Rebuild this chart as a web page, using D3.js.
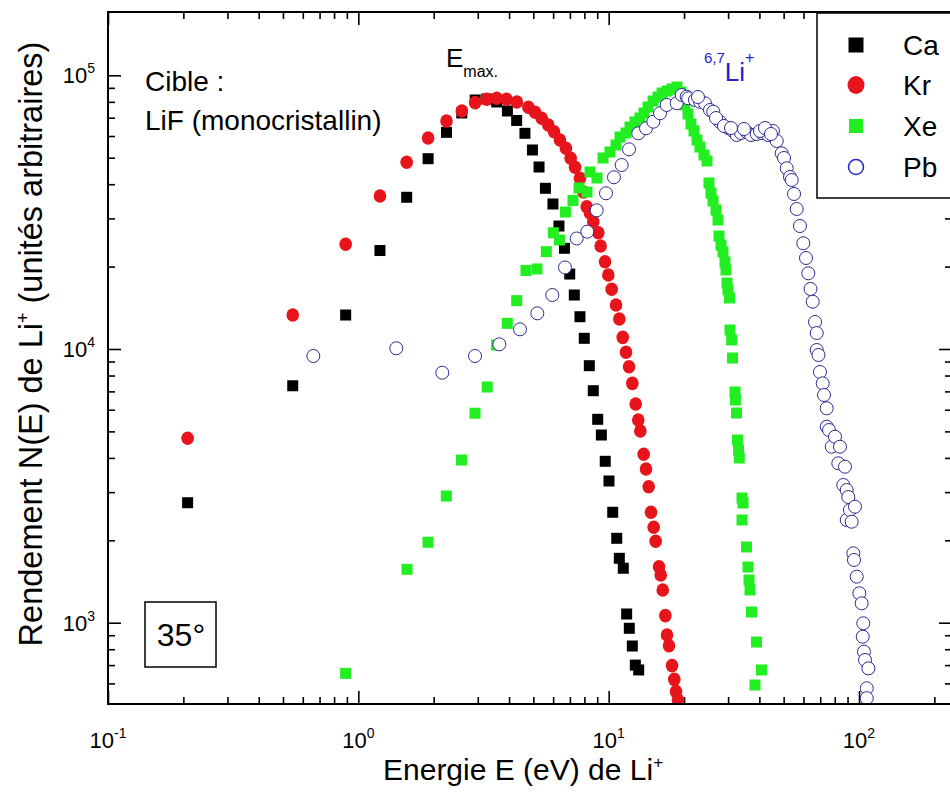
<!DOCTYPE html>
<html><head><meta charset="utf-8">
<script src="https://cdn.jsdelivr.net/npm/d3@7"></script>
<style>
body{margin:0;background:#fff}
svg text{font-family:"Liberation Sans",Arial,Helvetica,sans-serif}
</style>
</head><body>
<svg id="c" width="950" height="797"></svg>
<script>
// ---------------- data ----------------
const seriesNames = ["Ca","Kr","Xe","Pb"];
const xMajorExp = [-1,0,1,2];
const yMajorExp = [3,4,5];

const caE = [0.208,0.547,0.890,1.22,1.56,1.90,2.25,2.59,2.93,3.26,3.57,3.94,4.29,4.63,4.96,5.27,5.59,5.99,6.33,6.66,6.99,7.29,7.68,7.99,8.37,8.68,9.04,9.35,9.69,10.03,10.38,10.77,11.03,11.44,11.80,12.09,12.43,12.78,13.18];
const caN = [2744,7340,13310,22900,35840,49580,61890,72840,81240,81910,79900,74070,68390,61380,53350,46240,38650,33870,28140,23330,18790,15750,13120,10940,8690,7040,5535,4850,3888,3294,2532,2034,1719,1581,1076,954,822,700,672];

const krE = [0.208,0.547,0.890,1.22,1.56,1.90,2.25,2.59,2.93,3.26,3.57,3.91,4.30,4.78,5.08,5.40,5.74,6.05,6.39,6.75,7.05,7.34,7.68,7.93,8.17,8.42,8.68,9.09,9.29,9.67,9.97,10.28,10.70,11.03,11.38,11.73,12.06,12.43,12.82,13.13,13.38,13.80,14.10,14.45,14.76,15.13,15.41,15.89,16.14,16.44,16.84,17.10,17.42,17.91,18.29,18.58,18.92];
const krN = [4718,13310,24130,36220,48100,59000,68080,74070,79430,81710,82410,81710,79900,76400,73250,69650,65830,62220,58010,54120,49740,46120,42050,37460,33110,31400,29180,26600,23790,20840,18640,16530,14480,12870,11030,9725,8615,7490,6295,5503,5017,4124,3643,3140,2532,2232,1984,1602,1494,1317,1061,902,824,697,621,560,522];

const xeE = [0.890,1.565,1.898,2.246,2.584,2.925,3.272,3.570,3.936,4.292,4.675,5.173,5.636,6.010,6.362,6.722,7.203,7.612,8.194,8.424,8.982,9.493,10.12,10.70,11.10,11.73,12.17,12.74,13.34,13.84,14.36,15.04,15.74,16.34,17.11,17.91,18.75,19.45,20.18,20.75,21.32,21.92,22.53,23.16,24.03,24.71,25.16,25.63,26.11,26.84,27.34,27.59,28.10,28.62,29.15,29.42,29.70,29.97,30.39,30.53,31.00,31.24,31.96,32.10,32.41,32.71,33.01,33.26,34.10,34.41,34.10,35.53,36.03,36.36,36.70,37.21,38.95,40.79,38.42];
const xeN = [653,1567,1967,2903,3930,5824,7263,10340,12410,15020,19360,19610,22680,26590,25020,31660,34880,38750,37460,44340,42150,49870,52460,55630,59500,61550,64730,67520,69830,72840,76600,80550,83310,86150,87610,89130,90640,86900,77900,72210,66390,62600,58010,54700,51150,48630,40420,37150,34730,32200,29600,25880,23990,22620,20790,19440,17420,16430,15360,11730,10790,9270,6965,6512,5838,4650,4276,3997,2855,2737,2373,1891,1598,1432,1317,1094,850,672,592];

const pbE = [0.661,1.418,2.165,2.925,3.658,4.423,5.187,5.955,6.691,7.453,8.216,8.957,9.759,10.50,11.27,12.06,13.13,14.10,15.08,16.04,17.05,18.70,19.57,20.50,20.80,22.12,23.16,24.25,25.39,26.18,27.84,30.06,31.38,32.47,33.79,35.60,37.04,39.02,40.97,43.42,45.33,46.92,49.12,50.17,51.43,53.02,53.86,55.01,56.39,58.10,59.90,61.41,62.72,64.01,65.33,66.72,67.78,67.78,68.89,69.85,71.61,72.47,74.30,74.30,75.89,77.80,80.19,82.67,83.95,86.55,87.91,89.30,89.30,90.63,92.04,93.50,94.89,96.38,95.50,97.90,100.3,102.5,104.0,103.5,104.7,105.7,109.0,107.4,107.4,22.74,26.84,28.88,30.81,34.72,40.22,42.12,44.50];
const pbN = [9428,10060,8191,9428,10400,11800,13500,15750,19860,25340,26830,32120,37060,42400,47020,53650,61380,64040,67690,72650,77900,79030,84720,83520,82410,81240,80100,79030,74690,73620,67520,64190,62600,60520,61550,62060,60520,61030,61550,60520,62600,57540,51880,49870,45730,42500,41450,36840,32470,28140,24340,21500,18910,16570,14890,12550,11440,9915,9508,8241,7490,6791,6072,5202,5058,4395,4781,3823,4395,3185,3715,3053,2373,2879,2581,2339,1793,2653,1695,1473,1281,1177,995,889,784,731,681,576,530,83310,69830,65280,64190,63650,62600,64190,61030];

// ---------------- layout ----------------
const L = 108, R = 952, T = 12, B = 704;
const svg = d3.select("#c");
svg.append("rect").attr("width",950).attr("height",797).attr("fill","#fff");

const x = d3.scaleLog().domain([0.1,100]).range([108,859]);
const y = d3.scaleLog().domain([1e3,1e5]).range([622.7,75.3]);

const minorX = [], minorY = [];
for (let e=-1;e<=2;e++) for (let m=2;m<=9;m++){const v=m*Math.pow(10,e); if (x(v)<R) minorX.push(v);}
for (let e=2;e<=5;e++) for (let m=2;m<=9;m++){const v=m*Math.pow(10,e); const p=y(v); if (p>T && p<B) minorY.push(v);}
const majX = xMajorExp.map(e=>Math.pow(10,e));
const majY = yMajorExp.map(e=>Math.pow(10,e));

function styleAxis(g){ g.select(".domain").remove(); g.selectAll("line").attr("stroke","#000").attr("stroke-width",1.6); }
const axes = svg.append("g");
axes.append("g").attr("transform",`translate(0,${B})`).call(d3.axisBottom(x).tickValues(minorX).tickSize(-7).tickFormat("")).call(styleAxis);
axes.append("g").attr("transform",`translate(0,${B})`).call(d3.axisBottom(x).tickValues(majX).tickSize(-13).tickFormat("")).call(styleAxis);
axes.append("g").attr("transform",`translate(0,${T})`).call(d3.axisTop(x).tickValues(minorX).tickSize(-7).tickFormat("")).call(styleAxis);
axes.append("g").attr("transform",`translate(0,${T})`).call(d3.axisTop(x).tickValues(majX).tickSize(-13).tickFormat("")).call(styleAxis);
axes.append("g").attr("transform",`translate(${L},0)`).call(d3.axisLeft(y).tickValues(minorY).tickSize(-7).tickFormat("")).call(styleAxis);
axes.append("g").attr("transform",`translate(${L},0)`).call(d3.axisLeft(y).tickValues(majY).tickSize(-13).tickFormat("")).call(styleAxis);
axes.append("g").attr("transform",`translate(${R},0)`).call(d3.axisRight(y).tickValues(minorY).tickSize(-7).tickFormat("")).call(styleAxis);
axes.append("g").attr("transform",`translate(${R},0)`).call(d3.axisRight(y).tickValues(majY).tickSize(-13).tickFormat("")).call(styleAxis);

// tick labels
xMajorExp.forEach(e=>{
  const t = svg.append("text").attr("x",x(Math.pow(10,e))).attr("y",748).attr("text-anchor","middle").attr("font-size",22).attr("fill","#000");
  t.append("tspan").text("10");
  t.append("tspan").attr("dy",-10).attr("font-size",14).text(String(e));
});
yMajorExp.forEach(e=>{
  const t = svg.append("text").attr("x",95).attr("y",y(Math.pow(10,e))+8).attr("text-anchor","end").attr("font-size",22).attr("fill","#000");
  t.append("tspan").text("10");
  t.append("tspan").attr("dy",-10).attr("font-size",14).text(String(e));
});

// axis titles
const xt = svg.append("text").attr("x",383).attr("y",780).attr("font-size",30).attr("fill","#000");
xt.append("tspan").text("Energie E (eV) de Li");
xt.append("tspan").attr("dy",-12).attr("font-size",17).text("+");
const yt = svg.append("text").attr("transform","translate(42,344) rotate(-90)").attr("text-anchor","middle").attr("font-size",32.5).attr("fill","#000");
yt.append("tspan").text("Rendement N(E) de Li");
yt.append("tspan").attr("dy",-13).attr("font-size",18).text("+");
yt.append("tspan").attr("dy",13).text(" (unités arbitraires)");

// ---------------- points ----------------
svg.append("clipPath").attr("id","clip").append("rect").attr("x",L).attr("y",T).attr("width",R-L).attr("height",B-T);
const plot = svg.append("g").attr("clip-path","url(#clip)");
const zip = (a,b)=>a.map((v,i)=>({e:v,n:b[i]}));
const SQ = 11;
plot.append("g").selectAll("rect").data(zip(caE,caN)).join("rect")
  .attr("x",d=>x(d.e)-SQ/2).attr("y",d=>y(d.n)-SQ/2).attr("width",SQ).attr("height",SQ).attr("fill","#000");
plot.append("g").selectAll("ellipse").data(zip(krE,krN)).join("ellipse")
  .attr("cx",d=>x(d.e)).attr("cy",d=>y(d.n)).attr("rx",6.3).attr("ry",6.8).attr("fill","#e8141b");
plot.append("g").selectAll("rect").data(zip(xeE,xeN)).join("rect")
  .attr("x",d=>x(d.e)-SQ/2).attr("y",d=>y(d.n)-SQ/2).attr("width",SQ).attr("height",SQ).attr("fill","#22ee22");
plot.append("g").selectAll("circle").data(zip(pbE,pbN)).join("circle")
  .attr("cx",d=>x(d.e)).attr("cy",d=>y(d.n)).attr("r",6.5).attr("fill","#fff").attr("stroke","#2a2a90").attr("stroke-width",1);

// frame
svg.append("rect").attr("x",L).attr("y",T).attr("width",R-L).attr("height",B-T).attr("fill","none").attr("stroke","#000").attr("stroke-width",2);

// ---------------- annotations ----------------
svg.append("text").attr("x",145).attr("y",91).attr("font-size",28).text("Cible :");
svg.append("text").attr("x",145).attr("y",130).attr("font-size",28).text("LiF (monocristallin)");
const em = svg.append("text").attr("x",446).attr("y",67).attr("font-size",26);
em.append("tspan").text("E");
em.append("tspan").attr("dy",10).attr("font-size",16).text("max.");
const li = svg.append("text").attr("x",704).attr("y",81).attr("font-size",26).attr("fill","#2222cc");
li.append("tspan").attr("dy",-18).attr("font-size",15).text("6,7");
li.append("tspan").attr("dy",18).text("Li");
li.append("tspan").attr("dy",-18).attr("font-size",16).text("+");

svg.append("rect").attr("x",145).attr("y",602).attr("width",71).attr("height",65).attr("fill","#fff").attr("stroke","#000").attr("stroke-width",1.5);
svg.append("text").attr("x",181).attr("y",646).attr("text-anchor","middle").attr("font-size",32).text("35°");

// ---------------- legend ----------------
const lg = svg.append("g");
lg.append("rect").attr("x",817).attr("y",13).attr("width",160).attr("height",185).attr("fill","#fff").attr("stroke","#000").attr("stroke-width",1.5);
const rows = [45,85,126,167];
seriesNames.forEach((s,i)=>{
  const cy = rows[i], cx = 856;
  if (s==="Ca") lg.append("rect").attr("x",cx-7.5).attr("y",cy-7.5).attr("width",15).attr("height",15).attr("fill","#000");
  if (s==="Kr") lg.append("ellipse").attr("cx",cx).attr("cy",cy).attr("rx",8.5).attr("ry",9).attr("fill","#e8141b");
  if (s==="Xe") lg.append("rect").attr("x",cx-7).attr("y",cy-7).attr("width",14).attr("height",14).attr("fill","#22ee22");
  if (s==="Pb") lg.append("circle").attr("cx",cx).attr("cy",cy).attr("r",7.5).attr("fill","#fff").attr("stroke","#2828c8").attr("stroke-width",1.5);
  lg.append("text").attr("x",903).attr("y",cy+10).attr("font-size",28).text(s);
});
</script>
</body></html>
